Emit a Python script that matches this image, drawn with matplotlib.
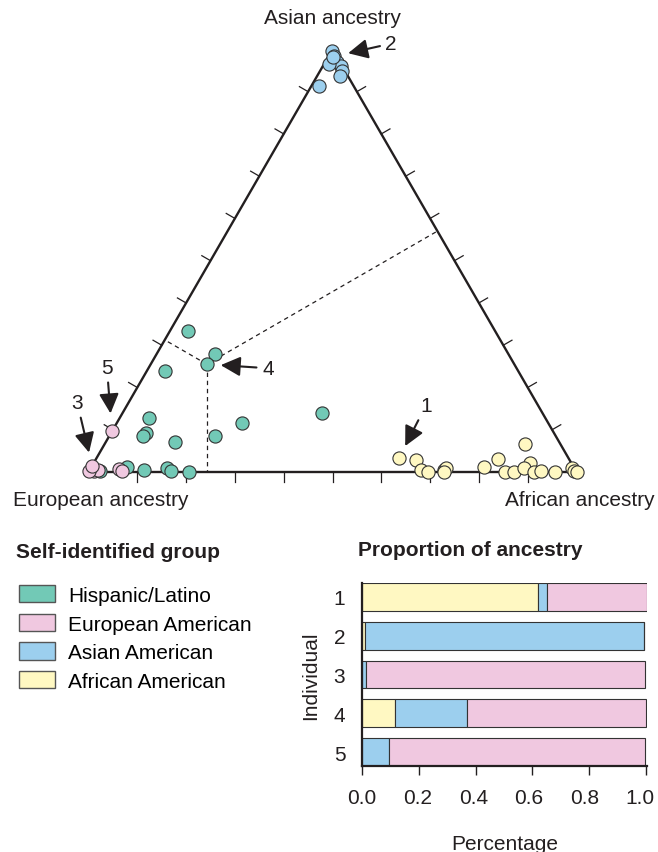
import numpy as np
import matplotlib.pyplot as plt
from matplotlib.patches import Patch
from matplotlib.ticker import FormatStrFormatter
from matplotlib.transforms import ScaledTranslation

plt.rcParams['font.family'] = ['Liberation Sans', 'DejaVu Sans']

W, H, DPI = 658, 853, 100

# points of each self-identified group as (African fraction, Asian fraction)
hisp_afr = [0.038, 0.119, 0.037, 0.060, 0.071, 0.069, 0.142, 0.216, 0.257, 0.409,
            0.074, 0.112, 0.157, 0.168, 0.206, 0.023]
hisp_asn = [0.333, 0.279, 0.238, 0.128, 0.092, 0.086, 0.070, 0.085, 0.115, 0.139,
            0.011, 0.005, 0.009, 0.002, 0.000, 0.003]

euro_afr = [0.004, 0.010, 0.018, 0.000, 0.058, 0.068]
euro_asn = [0.004, 0.002, 0.004, 0.002, 0.007, 0.003]

afam_afr = [0.658, 0.679, 0.695, 0.727, 0.729, 0.728, 0.805, 0.824, 0.854, 0.872,
            0.861, 0.894, 0.888, 0.912, 0.925, 0.956, 0.987, 0.994, 1.000]
afam_asn = [0.028, 0.005, 0.001, 0.005, 0.009, 0.001, 0.011, 0.031, 0.001, 0.000,
            0.066, 0.021, 0.009, 0.001, 0.003, 0.000, 0.009, 0.003, 0.000]

asam_afr = [0.001, 0.010, 0.013, 0.025, 0.036, 0.045, 0.046, 0.015, 0.010]
asam_asn = [0.997, 0.985, 0.973, 0.970, 0.961, 0.950, 0.938, 0.914, 0.965]

# the five highlighted individuals
individuals = ['1', '2', '3', '4', '5']
ind_african = [0.62, 0.01, 0.0, 0.115, 0.0]
ind_asian = [0.032, 0.983, 0.015, 0.255, 0.096]
ind_european = [0.35, 0.0, 0.981, 0.631, 0.90]
ind_group = ['African American', 'Asian American', 'European American',
             'Hispanic/Latino', 'European American']

groups = ['Hispanic/Latino', 'European American', 'Asian American', 'African American']
colors = {'Hispanic/Latino': '#72C9B6', 'European American': '#F0C8E0',
          'Asian American': '#9CCFEE', 'African American': '#FFF8C2'}
edge = '#333333'
ink = '#231f20'

S3 = np.sqrt(3) / 2


def tern(afr, asn):
    afr = np.asarray(afr, float)
    asn = np.asarray(asn, float)
    return afr + 0.5 * asn, asn * S3


fig = plt.figure(figsize=(W / DPI, H / DPI), dpi=DPI)

# ---- ternary plot ----
side = 488.0
ex, ey = 88.5, 473.0   # European corner in pixels
ax = fig.add_axes([0, 1 - 530 / H, 1, 530 / H])
ax.set_xlim(-ex / side, (W - ex) / side)
ax.set_ylim(-(530 - ey) / side, ey / side)
ax.axis('off')

corners = np.array([[0, 0], [1, 0], [0.5, S3], [0, 0]])
ax.plot(corners[:, 0], corners[:, 1], color=ink, lw=1.7, solid_joinstyle='miter', zorder=3)

tl = 10 / side
for t in np.arange(1, 10) / 10:
    ax.plot([t, t], [0, -tl], color=ink, lw=0.9, zorder=3)
    px, py = 0.5 * t, S3 * t
    ax.plot([px, px - S3 * tl], [py, py + 0.5 * tl], color=ink, lw=0.9, zorder=3)
    px, py = 1 - 0.5 * t, S3 * t
    ax.plot([px, px + S3 * tl], [py, py + 0.5 * tl], color=ink, lw=0.9, zorder=3)

# dashed guides from individual 4 to each side
p4 = np.array(tern(ind_african[3], ind_asian[3]))
u = np.array([0.5, S3])
v = np.array([-0.5, S3])
f_bot = np.array([p4[0], 0])
f_left = np.dot(p4, u) * u
f_right = np.array([1, 0]) + np.dot(p4 - np.array([1, 0]), v) * v
for f in (f_bot, f_left, f_right):
    ax.plot([p4[0], f[0]], [p4[1], f[1]], color=ink, lw=0.9, ls=(0, (3.5, 3)), zorder=2)

pts = {'Hispanic/Latino': (hisp_afr, hisp_asn), 'European American': (euro_afr, euro_asn),
       'African American': (afam_afr, afam_asn), 'Asian American': (asam_afr, asam_asn)}
for g in ['Hispanic/Latino', 'European American', 'African American', 'Asian American']:
    x, y = tern(*pts[g])
    ax.scatter(x, y, s=90, c=colors[g], edgecolors=edge, linewidths=0.8, zorder=4, clip_on=False)

for i in range(len(individuals)):
    x, y = tern(ind_african[i], ind_asian[i])
    ax.scatter([x], [y], s=90, c=colors[ind_group[i]], edgecolors=edge, linewidths=0.8,
               zorder=5, clip_on=False)

label_off = [(27, 53), (58, 13), (-15, 63), (61, -4), (-5, 64)]
tip_gap = [10, 11, 9.7, 10, 13]
for i in range(len(individuals)):
    x, y = tern(ind_african[i], ind_asian[i])
    ax.annotate(individuals[i], xy=(x, y), xytext=label_off[i], textcoords='offset pixels',
                fontsize=15, ha='center', va='center', color=ink, zorder=6,
                arrowprops=dict(arrowstyle='-|>,head_length=0.8,head_width=0.4',
                                mutation_scale=15, lw=1.5, color=ink,
                                shrinkA=2, shrinkB=tip_gap[i]))

ax.annotate('Asian ancestry', xy=(0.5, S3), xytext=(0, 32), textcoords='offset pixels',
            fontsize=15, ha='center', va='center', color=ink)
ax.annotate('European ancestry', xy=(0, 0), xytext=(12, -28), textcoords='offset pixels',
            fontsize=15, ha='center', va='center', color=ink)
ax.annotate('African ancestry', xy=(1, 0), xytext=(3, -28), textcoords='offset pixels',
            fontsize=15, ha='center', va='center', color=ink)

# ---- legend ----
fig.text(16 / W, 1 - 553 / H, 'Self-identified group', fontsize=15, fontweight='bold',
         ha='left', va='center', color=ink)
handles = [Patch(facecolor=colors[g], edgecolor='#555555', lw=1.0) for g in groups]
fig.legend(handles, groups, loc='upper left', bbox_to_anchor=(19 / W, 1 - 586 / H),
           frameon=False, fontsize=15, borderpad=0, borderaxespad=0,
           handlelength=1.73, handleheight=0.91, handletextpad=0.64, labelspacing=0.42)

# ---- stacked bars ----
bx = fig.add_axes([362 / W, 1 - 767 / H, 285 / W, 183 / H])
pos = np.arange(1, 6)
bh = 0.72
left2 = np.array(ind_african)
left3 = left2 + np.array(ind_asian)
bx.barh(pos, ind_african, height=bh, color=colors['African American'], edgecolor=edge, lw=0.8)
bx.barh(pos, ind_asian, left=left2, height=bh, color=colors['Asian American'], edgecolor=edge, lw=0.8)
bx.barh(pos, ind_european, left=left3, height=bh, color=colors['European American'],
        edgecolor=edge, lw=0.8)
bx.set_ylim(5 + bh / 2, 1 - bh / 2)
bx.set_xlim(0, 1.0035)
bx.set_yticks(pos)
bx.set_yticklabels(individuals)
bx.set_xticks(np.arange(0, 1.01, 0.2))
bx.xaxis.set_major_formatter(FormatStrFormatter('%.1f'))
bx.tick_params(axis='x', direction='out', length=6.5, width=1, labelsize=15, pad=9, colors=ink)
bx.tick_params(axis='y', length=0, labelsize=15, pad=12, colors=ink)
for s in ['top', 'right']:
    bx.spines[s].set_visible(False)
for s in ['left', 'bottom']:
    bx.spines[s].set_linewidth(1.6)
    bx.spines[s].set_color(ink)
bx.set_xlabel('Percentage', fontsize=15, labelpad=20, color=ink)
bx.set_ylabel('Individual', fontsize=15, labelpad=10, color=ink)

# tick labels sit a little left of their ticks, most at the right end
for k, lab in enumerate(bx.get_xticklabels()):
    lab.set_transform(lab.get_transform() + ScaledTranslation(-1.2 * k / DPI, 0, fig.dpi_scale_trans))

fig.text(358 / W, 1 - 551 / H, 'Proportion of ancestry', fontsize=15, fontweight='bold',
         ha='left', va='center', color=ink)

fig.savefig('out.png', dpi=DPI)
